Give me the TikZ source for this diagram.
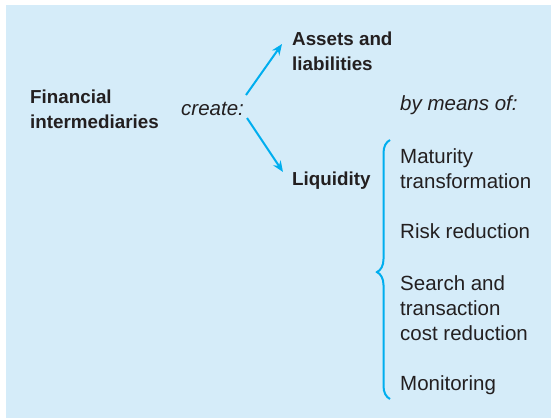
\documentclass[tikz,border=0pt]{standalone}
\usepackage{fontspec}
\setmainfont{Liberation Sans}
\usetikzlibrary{decorations.pathreplacing,arrows.meta}
\definecolor{panel}{RGB}{213,236,249}
\definecolor{accent}{RGB}{0,174,239}
\definecolor{ink}{RGB}{35,31,32}
\begin{document}
\begin{tikzpicture}[x=1pt,y=-1pt,
  heading/.style={inner sep=0pt,anchor=base west,align=left,text=ink,
    font=\fontsize{18.8}{25}\selectfont\bfseries},
  plain/.style={inner sep=0pt,anchor=base west,align=left,text=ink,
    font=\fontsize{20.5}{25}\selectfont},
  note/.style={plain,font=\fontsize{20.5}{25}\selectfont\itshape},
  arr/.style={draw=accent,line width=2pt,-{Stealth[length=11pt,width=9pt]}},
  bracebar/.style={draw=accent,line width=2pt,decorate,
    decoration={brace,amplitude=13pt,aspect=0.49}}]
\useasboundingbox (0,0) rectangle (551,418);
\fill[panel] (6,5) rectangle (551,418);

% multi-line nodes are placed by the baseline of their last line
\node[heading] (fi) at (30,128) {Financial\\intermediaries};
\node[note] (create) at (181,115) {create:};
\node[heading] (assets) at (292,70) {Assets and\\liabilities};
\node[heading] (liq) at (292,185) {Liquidity};
\node[note] (means) at (400,110) {by means of:};

\node[plain] (mat) at (400,188) {Maturity\\transformation};
\node[plain] (risk) at (400,238) {Risk reduction};
\node[plain] (search) at (400,340) {Search and\\transaction\\cost reduction};
\node[plain] (mon) at (400,390) {Monitoring};

\draw[arr] ([shift={(65,-20)}]create.base west) -- ([shift={(-10,-26)}]assets.base west);
\draw[arr] ([shift={(66,3)}]create.base west) -- ([shift={(-9,-13)}]liq.base west);

\coordinate (btop) at ([shift={(-10,-48)}]mat.base west);
\coordinate (bbot) at ([shift={(-10,9)}]mon.base west);
\draw[bracebar] (bbot) -- (btop);
\end{tikzpicture}
\end{document}
